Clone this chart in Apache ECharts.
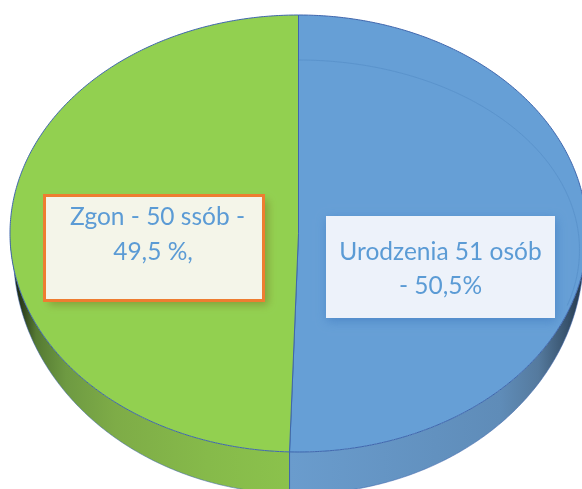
<!DOCTYPE html>
<html><head><meta charset="utf-8">
<style>html,body{margin:0;padding:0;background:#fff}#c{width:582px;height:489px}</style>
<script src="https://cdn.jsdelivr.net/npm/echarts@6/dist/echarts.min.js"></script>
</head><body><div id="c"></div>
<script>
const categories = ['Urodzenia', 'Zgon'];
const values = [51, 50];
const labelLines = [['Urodzenia 51 osób', '- 50,5%'], ['Zgon - 50 ssób -', '49,5 %,']];

const topColors = ['#669fd6', '#92d050'];
const total = values.reduce((a, b) => a + b, 0);
const TOP = {cx: 298.5, cy: 233.5, rx: 288.5, ry: 218.5};
const BOT = {cx: 298.5, cy: 254, rx: 285, ry: 240};
const INNER = {cx: 298.5, cy: 250, rx: 281, ry: 190};
const boxes = [
  {x: 326, y: 216, w: 229, h: 102, fill: '#edf2fa', stroke: null, shadow: 'rgba(60,120,190,0.6)', blur: 10, ox: 1, oy: 3, textY: [252, 286], textX: [440.5, 440.5]},
  {x: 44.5, y: 195.5, w: 219, h: 105, fill: '#f4f5e9', stroke: '#ee7d31', shadow: 'rgba(120,110,40,0.5)', blur: 8, ox: 4, oy: 4, textY: [217, 252], textX: [157.5, 153]}
];
function pt(e, deg) {
  const a = deg * Math.PI / 180;
  return [e.cx + e.rx * Math.sin(a), e.cy - e.ry * Math.cos(a)];
}
function arc(e, a0, a1) {
  const n = Math.max(2, Math.ceil(Math.abs(a1 - a0) * 2));
  const out = [];
  for (let i = 0; i <= n; i++) out.push(pt(e, a0 + (a1 - a0) * i / n));
  return out;
}
function ranges() {
  let s = 0;
  return values.map(v => { const a0 = s / total * 360; s += v; return [a0, s / total * 360]; });
}
const angleRows = ranges().map((r, i) => ({name: categories[i], value: [r[0], r[1], values[i]]}));
const sideFill = [
  {type: 'linear', x: 290, y: 0, x2: 582, y2: 0, global: true, colorStops: [
    {offset: 0, color: '#6a9ccd'}, {offset: 0.5, color: '#6291bf'}, {offset: 0.72, color: '#5f8cb8'}, {offset: 0.85, color: '#557a9e'}, {offset: 0.95, color: '#37526c'}, {offset: 1, color: '#26394c'}]},
  {type: 'linear', x: 17, y: 0, x2: 290, y2: 0, global: true, colorStops: [
    {offset: 0, color: '#1f2a15'}, {offset: 0.07, color: '#557a33'}, {offset: 0.18, color: '#6e9a42'}, {offset: 0.36, color: '#7eac47'}, {offset: 0.7, color: '#86ba4a'}, {offset: 1, color: '#8bc24c'}]}
];
const edge = '#3f66ad';
function renderSide(params, api) {
  const a0 = Math.max(api.value(0), 90), a1 = Math.min(api.value(1), 270);
  const i = params.dataIndex;
  const pts = arc(TOP, a0, a1).concat(arc(BOT, a1, a0));
  const div = i === 0 ? a1 : a0;
  return {type: 'group', children: [
    {type: 'polygon', shape: {points: pts}, style: {fill: sideFill[i], stroke: null}},
    {type: 'polyline', shape: {points: arc(BOT, a0, a1)}, style: {fill: null, stroke: 'rgba(63,102,173,0.55)', lineWidth: 1}},
    {type: 'line', shape: {x1: pt(TOP, div)[0], y1: pt(TOP, div)[1], x2: pt(TOP, div)[0], y2: pt(BOT, div)[1]}, style: {stroke: edge, lineWidth: 1}}
  ]};
}
function renderTop(params, api) {
  const a0 = api.value(0), a1 = api.value(1), i = params.dataIndex;
  const pts = [[TOP.cx, TOP.cy]].concat(arc(TOP, a0, a1));
  const kids = [{type: 'polygon', shape: {points: pts}, style: {fill: topColors[i], stroke: edge, lineWidth: 1}}];
  if (i === 0) kids.push({type: 'polyline', shape: {points: arc(INNER, 0, 107)}, style: {fill: null, stroke: '#5a93cc', lineWidth: 1}});
  return {type: 'group', children: kids};
}
function renderLabel(params, api) {
  const i = params.dataIndex, b = boxes[i];
  const shape = {x: b.x, y: b.y, width: b.w, height: b.h};
  const kids = [{type: 'rect', shape: shape,
    style: {fill: b.fill, stroke: null, shadowBlur: b.blur, shadowOffsetX: b.ox, shadowOffsetY: b.oy, shadowColor: b.shadow}}];
  if (b.stroke) kids.push({type: 'rect', shape: shape, style: {fill: null, stroke: b.stroke, lineWidth: 3}});
  labelLines[i].forEach((t, k) => kids.push({type: 'text', style: {text: t, x: b.textX[k], y: b.textY[k], align: 'center', verticalAlign: 'middle',
    font: '24.5px Lato, Carlito, sans-serif', fill: '#5b9bd5'}}));
  return {type: 'group', children: kids};
}
const chart = echarts.init(document.getElementById('c'), null, {renderer: 'canvas'});
chart.setOption({
  animation: false, backgroundColor: '#fff', tooltip: {show: false},
  series: [
    {type: 'custom', name: 'side', coordinateSystem: 'none', z: 1, silent: true, clip: false, renderItem: renderSide, data: angleRows},
    {type: 'custom', name: 'top', coordinateSystem: 'none', z: 2, silent: true, clip: false, renderItem: renderTop, data: angleRows},
    {type: 'custom', name: 'labels', coordinateSystem: 'none', z: 3, silent: true, clip: false, renderItem: renderLabel, data: angleRows}
  ]
});
</script></body></html>
